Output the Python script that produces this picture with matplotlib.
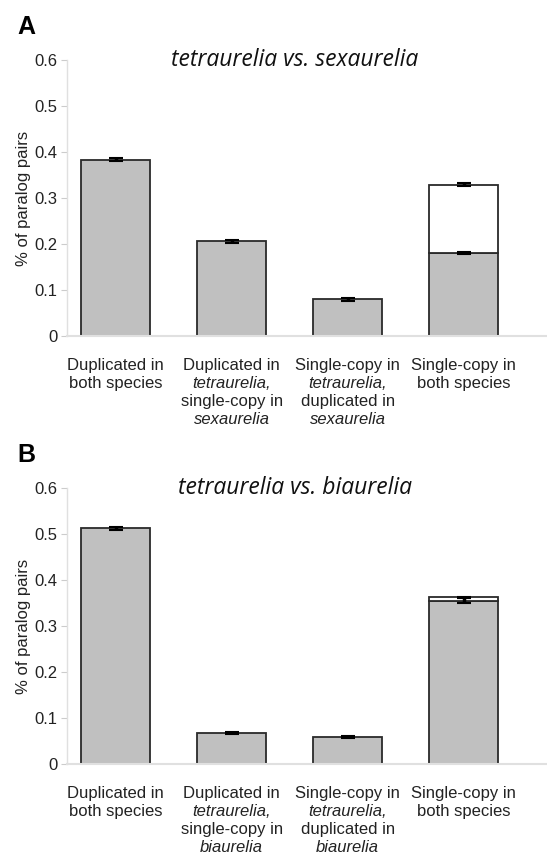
import matplotlib
matplotlib.use("Agg")
import matplotlib.pyplot as plt
from matplotlib.transforms import blended_transform_factory

# ---- data ----
categories_A = [
    [("Duplicated in", False), ("both species", False)],
    [("Duplicated in", False), ("tetraurelia,", True), ("single-copy in", False), ("sexaurelia", True)],
    [("Single-copy in", False), ("tetraurelia,", True), ("duplicated in", False), ("sexaurelia", True)],
    [("Single-copy in", False), ("both species", False)],
]
categories_B = [
    [("Duplicated in", False), ("both species", False)],
    [("Duplicated in", False), ("tetraurelia,", True), ("single-copy in", False), ("biaurelia", True)],
    [("Single-copy in", False), ("tetraurelia,", True), ("duplicated in", False), ("biaurelia", True)],
    [("Single-copy in", False), ("both species", False)],
]
gray_A = [0.383, 0.206, 0.080, 0.180]
gray_err_A = [0.003, 0.003, 0.003, 0.002]
total_A = [None, None, None, 0.329]
total_err_A = [None, None, None, 0.003]

gray_B = [0.512, 0.068, 0.058, 0.355]
gray_err_B = [0.003, 0.002, 0.002, 0.006]
total_B = [None, None, None, 0.362]
total_err_B = [None, None, None, 0.002]

yticks = [0, 0.1, 0.2, 0.3, 0.4, 0.5, 0.6]
ytick_labels = ["0", "0.1", "0.2", "0.3", "0.4", "0.5", "0.6"]

plt.rcParams['font.family'] = ['Liberation Sans', 'DejaVu Sans']

fig = plt.figure(figsize=(5.47, 8.55), dpi=100)

W, H = 547, 855
def axes_rect(left, top, right, bottom):
    return [left / W, 1 - bottom / H, (right - left) / W, (bottom - top) / H]

panels = [
    dict(rect=axes_rect(67, 60, 547, 336), letter="A", letter_y=27, title="tetraurelia vs. sexaurelia",
         cats=categories_A, gray=gray_A, gerr=gray_err_A, tot=total_A, terr=total_err_A),
    dict(rect=axes_rect(67, 488, 547, 764), letter="B", letter_y=455, title="tetraurelia vs. biaurelia",
         cats=categories_B, gray=gray_B, gerr=gray_err_B, tot=total_B, terr=total_err_B),
]

for p in panels:
    ax = fig.add_axes(p["rect"])
    x = list(range(len(p["gray"])))
    bw = 0.59
    ax.bar(x, p["gray"], width=bw, color="#c0c0c0", edgecolor="#2a2a2a", linewidth=1.3, zorder=2)
    for i, (t, te) in enumerate(zip(p["tot"], p["terr"])):
        if t is not None:
            ax.bar([i], [t - p["gray"][i]], bottom=[p["gray"][i]], width=bw, color="white",
                   edgecolor="#2a2a2a", linewidth=1.3, zorder=2)
            ax.errorbar([i], [t], yerr=[te], fmt="none", ecolor="black", elinewidth=2.5,
                        capsize=5, capthick=1.5, zorder=4)
    ax.errorbar(x, p["gray"], yerr=p["gerr"], fmt="none", ecolor="black", elinewidth=2.5,
                capsize=5, capthick=1.5, zorder=4)

    ax.set_xlim(-0.42, 3.72)
    ax.set_ylim(0, 0.6)
    ax.set_yticks(yticks)
    ax.set_yticklabels(ytick_labels, fontsize=12, color="#222222")
    ax.set_xticks([])
    ax.tick_params(axis="y", length=4, color="#cccccc", width=0.8, pad=3)
    for s in ["top", "right"]:
        ax.spines[s].set_visible(False)
    ax.spines["left"].set_color("#e0e0e0")
    ax.spines["bottom"].set_color("#e0e0e0")
    ax.spines["left"].set_linewidth(1.0)
    ax.spines["bottom"].set_linewidth(1.5)
    ax.set_ylabel("% of paralog pairs", fontsize=12, color="#222222", labelpad=2)

    ax.text(0.475, 1.0, p["title"], transform=ax.transAxes, ha="center", va="center",
            fontsize=16.5, style="italic", family=["Open Sans", "DejaVu Sans"], color="#111111")

    fig.text(17 / W, 1 - p["letter_y"] / H, p["letter"],
             fontsize=18, fontweight="bold", ha="left", va="center")

    trans = blended_transform_factory(ax.transData, ax.transAxes)
    for i, lines in enumerate(p["cats"]):
        for j, (txt, ital) in enumerate(lines):
            ax.annotate(txt, xy=(i, 0), xycoords=trans, xytext=(0, -21 - 13.1 * j),
                        textcoords="offset points", ha="center", va="center", fontsize=12,
                        style="italic" if ital else "normal", color="#222222",
                        annotation_clip=False)

fig.savefig("out.png", dpi=100)
